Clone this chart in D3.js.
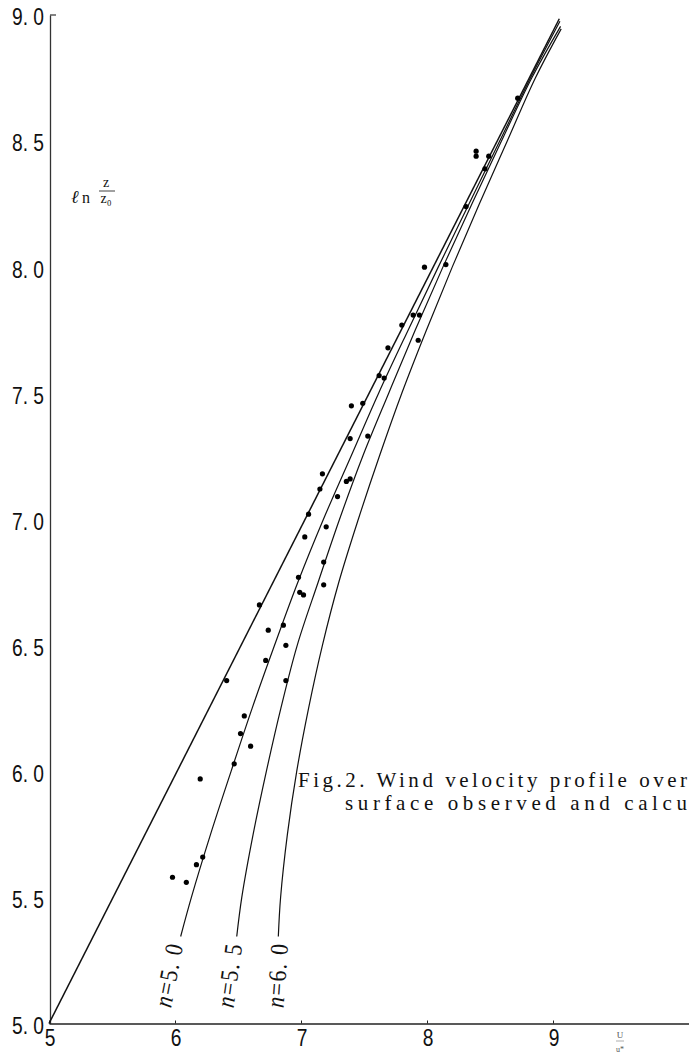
<!DOCTYPE html>
<html>
<head>
<meta charset="utf-8">
<script src="https://cdn.jsdelivr.net/npm/d3@7"></script>
<style>
  body { margin: 0; background: #fff; }
  svg { display: block; }
</style>
</head>
<body>
<div id="chart"></div>
<script>
// observed points: u/u* against ln z/z0
const dotU   = [5.98, 6.09, 6.17, 6.22, 6.20, 6.47, 6.60, 6.52, 6.55, 6.41, 6.88, 6.72, 6.88, 6.74, 6.86, 6.67,
                6.99, 7.02, 7.18, 6.98, 7.18, 7.03, 7.20, 7.06, 7.29, 7.15, 7.36, 7.39, 7.17, 7.39, 7.53, 7.40,
                7.49, 7.62, 7.66, 7.69, 7.93, 7.80, 7.89, 7.94, 7.98, 8.15, 8.31, 8.46, 8.39, 8.39, 8.49, 8.72];
const dotLnZ = [5.58, 5.56, 5.63, 5.66, 5.97, 6.03, 6.10, 6.15, 6.22, 6.36, 6.36, 6.44, 6.50, 6.56, 6.58, 6.66,
                6.71, 6.70, 6.74, 6.77, 6.83, 6.93, 6.97, 7.02, 7.09, 7.12, 7.15, 7.16, 7.18, 7.32, 7.33, 7.45,
                7.46, 7.57, 7.56, 7.68, 7.71, 7.77, 7.81, 7.81, 8.00, 8.01, 8.24, 8.39, 8.46, 8.44, 8.44, 8.67];

// logarithmic law (straight line)
const logU   = [5.0, 9.05];
const logLnZ = [5.0, 8.985];

// calculated profiles
const n50U   = [6.045, 6.130, 6.282, 6.445, 6.612, 6.790, 6.975, 7.178, 7.397, 7.616, 7.850, 8.089, 8.333, 8.577, 8.821, 9.055];
const n50LnZ = [5.345, 5.5, 5.75, 6.0, 6.25, 6.5, 6.75, 7.0, 7.25, 7.5, 7.75, 8.0, 8.25, 8.5, 8.75, 8.975];
const n55U   = [6.490, 6.530, 6.620, 6.725, 6.840, 6.970, 7.136, 7.306, 7.490, 7.696, 7.906, 8.126, 8.356, 8.591, 8.831, 9.060];
const n55LnZ = [5.345, 5.5, 5.75, 6.0, 6.25, 6.5, 6.75, 7.0, 7.25, 7.5, 7.75, 8.0, 8.25, 8.5, 8.75, 8.955];
const n60U   = [6.820, 6.838, 6.892, 6.966, 7.060, 7.170, 7.300, 7.455, 7.622, 7.800, 7.995, 8.200, 8.415, 8.637, 8.860, 9.065];
const n60LnZ = [5.345, 5.5, 5.75, 6.0, 6.25, 6.5, 6.75, 7.0, 7.25, 7.5, 7.75, 8.0, 8.25, 8.5, 8.75, 8.945];

const curveNames = ["5.0", "5.5", "6.0"];
const xTicks = [5, 6, 7, 8, 9];
const yTicks = [5.0, 5.5, 6.0, 6.5, 7.0, 7.5, 8.0, 8.5, 9.0];

const width = 689, height = 1061;
const numFont = "'Liberation Sans', Arial, sans-serif";
const serifFont = "'Liberation Serif', 'Times New Roman', serif";

let x = d3.scaleLinear().domain([5, 9]).range([49, 553]);
let y = d3.scaleLinear().domain([5, 9]).range([1023.5, 15]);

let svg = d3.select("#chart")
    .append("svg")
    .attr("width", width)
    .attr("height", height);

svg.append("rect")
    .attr("width", width)
    .attr("height", height)
    .attr("fill", "#fff");

// axes
let yAxis = svg.append("g")
    .attr("transform", "translate(50,0)")
    .call(d3.axisLeft(y).tickValues([]).tickSizeOuter(0));
yAxis.select(".domain").attr("stroke", "#333").attr("stroke-width", 1.3);

svg.append("line")
    .attr("x1", 50).attr("x2", 56)
    .attr("y1", y(9)).attr("y2", y(9))
    .attr("stroke", "#333").attr("stroke-width", 1.2);

let xAxisScale = x.copy().domain([5, x.invert(width)]).range([x(5), width]);
let xAxis = svg.append("g")
    .attr("transform", "translate(0," + y(5) + ")")
    .call(d3.axisBottom(xAxisScale).tickValues(xTicks).tickSize(-3).tickSizeOuter(0).tickFormat(""));
xAxis.select(".domain").attr("stroke", "#222").attr("stroke-width", 1.6);
xAxis.selectAll(".tick line").attr("stroke", "#222");

// tick labels, narrow like the print
svg.selectAll(".ylab")
    .data(yTicks)
    .enter()
    .append("g")
    .attr("class", "ylab")
    .attr("transform", function(d) { return "translate(44," + (y(d) + 2) + ") scale(0.8,1)"; })
    .append("text")
    .attr("text-anchor", "end")
    .attr("dy", "0.35em")
    .attr("font-family", numFont)
    .attr("font-size", 24)
    .attr("fill", "#111")
    .text(function(d) { return d3.format(".1f")(d).replace(".", ". "); });

svg.selectAll(".xlab")
    .data(xTicks)
    .enter()
    .append("g")
    .attr("class", "xlab")
    .attr("transform", function(d) { return "translate(" + (x(d) + 1) + ",1046) scale(0.8,1)"; })
    .append("text")
    .attr("text-anchor", "middle")
    .attr("font-family", numFont)
    .attr("font-size", 24)
    .attr("fill", "#111")
    .text(function(d) { return d; });

// axis titles
let yTitle = svg.append("g").attr("font-family", serifFont).attr("fill", "#111");
yTitle.append("text").attr("x", 71).attr("y", 203).attr("font-size", 18).attr("font-style", "italic").text("ℓ");
yTitle.append("text").attr("x", 82).attr("y", 203).attr("font-size", 16).text("n");
yTitle.append("text").attr("x", 106).attr("y", 187).attr("font-size", 14).attr("text-anchor", "middle").text("z");
yTitle.append("line").attr("x1", 99).attr("x2", 115).attr("y1", 191).attr("y2", 191).attr("stroke", "#111").attr("stroke-width", 0.8);
yTitle.append("text").attr("x", 106).attr("y", 203).attr("font-size", 14).attr("text-anchor", "middle").text("z₀");

let xTitle = svg.append("g").attr("font-family", serifFont).attr("fill", "#555").attr("text-anchor", "middle");
xTitle.append("text").attr("x", 620).attr("y", 1038).attr("font-size", 9).text("U");
xTitle.append("line").attr("x1", 616).attr("x2", 624).attr("y1", 1041).attr("y2", 1041).attr("stroke", "#777").attr("stroke-width", 0.6);
xTitle.append("text").attr("x", 620).attr("y", 1052).attr("font-size", 8).text("u*");

// lines
let line = d3.line()
    .x(function(d) { return x(d[0]); })
    .y(function(d) { return y(d[1]); })
    .curve(d3.curveCatmullRom);

let series = [
    {u: logU, z: logLnZ, w: 1.5},
    {u: n50U, z: n50LnZ, w: 1.2},
    {u: n55U, z: n55LnZ, w: 1.2},
    {u: n60U, z: n60LnZ, w: 1.2}
];

svg.selectAll(".profile")
    .data(series)
    .enter()
    .append("path")
    .attr("class", "profile")
    .attr("fill", "none")
    .attr("stroke", "#111")
    .attr("stroke-width", function(d) { return d.w; })
    .attr("d", function(d) { return line(d.u.map(function(v, i) { return [v, d.z[i]]; })); });

// curve labels below the start of each curve
let labelInfo = [
    {u: n50U[0], z: n50LnZ[0], dx: -6, rot: -79},
    {u: n55U[0], z: n55LnZ[0], dx: -3, rot: -82},
    {u: n60U[0], z: n60LnZ[0], dx: 1, rot: -86}
];
let labels = svg.selectAll(".nlab")
    .data(labelInfo)
    .enter()
    .append("g")
    .attr("class", "nlab")
    .attr("transform", function(d) { return "translate(" + (x(d.u) + d.dx) + "," + (y(d.z) + 6) + ") rotate(" + d.rot + ") scale(1,1.15)"; })
    .append("text")
    .attr("text-anchor", "end")
    .attr("dy", "0.35em")
    .attr("font-family", serifFont)
    .attr("font-size", 22)
    .attr("letter-spacing", 1.5)
    .attr("fill", "#111");
labels.append("tspan").attr("font-style", "italic").text("n");
labels.append("tspan").text(function(d, i) { return "=" + curveNames[i].replace(".", ". "); });

// observed points
svg.selectAll(".obs")
    .data(dotU)
    .enter()
    .append("circle")
    .attr("class", "obs")
    .attr("cx", function(d) { return x(d); })
    .attr("cy", function(d, i) { return y(dotLnZ[i]); })
    .attr("r", 2.6)
    .attr("fill", "#000");

// caption
let cap = svg.append("g")
    .attr("font-family", serifFont)
    .attr("font-size", 21)
    .attr("fill", "#111");
cap.append("text")
    .attr("x", 298).attr("y", 787)
    .attr("textLength", 389).attr("lengthAdjust", "spacing")
    .text("Fig.2. Wind velocity profile over");
cap.append("text")
    .attr("x", 345).attr("y", 810)
    .attr("textLength", 342).attr("lengthAdjust", "spacing")
    .text("surface observed and calcu");
</script>
</body>
</html>
